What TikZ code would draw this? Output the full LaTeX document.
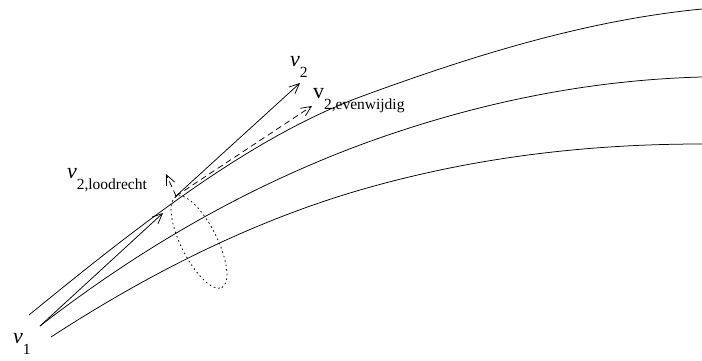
\documentclass[tikz,border=0pt]{standalone}
\usepackage{fontspec}
\setmainfont{Liberation Serif}
\usetikzlibrary{arrows.meta}
\tikzset{
  curve/.style={line width=0.75pt},
  vec/.style={line width=0.75pt,-{Straight Barb[length=10pt,width=9pt,line width=0.75pt]}},
  dvec/.style={vec,dash pattern=on 6pt off 4pt},
  lbl/.style={anchor=base west,inner sep=0pt,outer sep=0pt},
  ring/.style={line width=0.75pt,dash pattern=on 1.6pt off 3pt}
}
\newcommand{\mainv}[1]{{\fontsize{22}{22}\selectfont #1}}
\newcommand{\subv}[1]{\raisebox{-11.5pt}{\fontsize{15.5}{15.5}\selectfont #1}}
\begin{document}
\begin{tikzpicture}[x=1pt,y=1pt]
\useasboundingbox (0,0) rectangle (702,360);
% field lines
\draw[curve] (29,45) .. controls (139,135) and (250,222) .. (360,263)
                     .. controls (474,305) and (588,340) .. (702,351);
\draw[curve] (40,34) .. controls (147,117) and (253,175) .. (360,215)
                     .. controls (474,257) and (588,280) .. (702,283);
\draw[curve] (51,23) .. controls (154,90) and (257,140) .. (360,170)
                     .. controls (474,203) and (588,216) .. (702,216);
% points
\coordinate (p1) at (40,34);
\coordinate (p2) at (176,164);
\coordinate (t1) at (163,147);
\coordinate (t2) at (300,277);
\coordinate (t3) at (312,254);
\coordinate (t4) at (166,186);
\fill (p2) circle (1.1pt);
% vectors
\draw[vec] (p1) -- (t1);
\draw[vec] (p2) -- (t2);
\draw[dvec] (p2) -- (t3);
\draw[dvec] (p2) -- (t4);
% dotted ring
\draw[ring,rotate around={-63.4:(199,118)}] (199,118) ellipse (51pt and 18pt);
% labels
\node[lbl] (l1) at (13,17) {\mainv{\itshape v}\subv{1}};
\node[lbl] (l2) at (290,294) {\mainv{\itshape v}\subv{2}};
\node[lbl] (l3) at (313,262) {\mainv{v}\subv{2,evenwijdig}};
\node[lbl] (l4) at (67,182) {\mainv{\itshape v}\subv{2,loodrecht}};
\end{tikzpicture}
\end{document}
